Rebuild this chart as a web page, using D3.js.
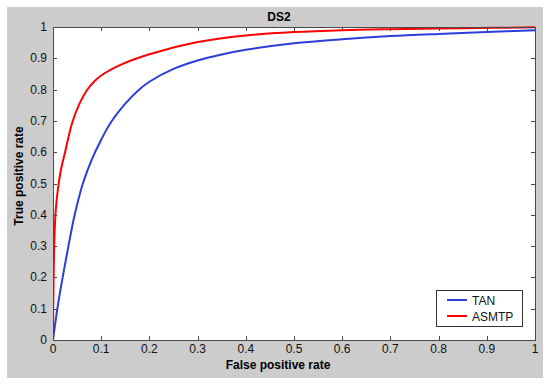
<!DOCTYPE html>
<html>
<head>
<meta charset="utf-8">
<script src="https://cdn.jsdelivr.net/npm/d3@7"></script>
<style>
  body { margin: 0; background: #fff; }
  text { font-family: "Liberation Sans", Arial, sans-serif; }
</style>
</head>
<body>
<div id="chart"></div>
<script>
// ROC curves (false positive rate -> true positive rate)
const tanFpr = [0, 0.01, 0.02, 0.032, 0.045, 0.062, 0.08, 0.10, 0.12, 0.15, 0.175, 0.20, 0.25, 0.30, 0.35, 0.40, 0.50, 0.60, 0.70, 0.80, 0.90, 1.0];
const tanTpr = [0, 0.11, 0.20, 0.30, 0.40, 0.50, 0.575, 0.64, 0.695, 0.755, 0.795, 0.825, 0.866, 0.893, 0.912, 0.927, 0.948, 0.961, 0.971, 0.978, 0.984, 0.99];

const asmtpFpr = [0, 0.001, 0.003, 0.006, 0.01, 0.016, 0.025, 0.04, 0.055, 0.07, 0.085, 0.10, 0.14, 0.20, 0.30, 0.40, 0.50, 0.60, 0.70, 0.85, 1.0];
const asmtpTpr = [0, 0.17, 0.33, 0.42, 0.48, 0.54, 0.60, 0.695, 0.755, 0.797, 0.825, 0.845, 0.879, 0.913, 0.952, 0.973, 0.984, 0.99, 0.993, 0.996, 0.999];

const xTicks = [0, 0.1, 0.2, 0.3, 0.4, 0.5, 0.6, 0.7, 0.8, 0.9, 1];
const yTicks = [0, 0.1, 0.2, 0.3, 0.4, 0.5, 0.6, 0.7, 0.8, 0.9, 1];

const seriesNames = ["TAN", "ASMTP"];
const seriesColors = ["#2b3ddb", "#ff0000"];

const width = 550
const height = 386
const plot = { left: 53, top: 27, right: 535, bottom: 340 }

const svg = d3.select("#chart").append("svg")
    .attr("width", width)
    .attr("height", height)

// figure background (MATLAB grey)
svg.append("rect")
    .attr("x", 7).attr("y", 7)
    .attr("width", 536).attr("height", 371)
    .attr("fill", "#cccccc")

svg.append("rect")
    .attr("x", plot.left).attr("y", plot.top)
    .attr("width", plot.right - plot.left).attr("height", plot.bottom - plot.top)
    .attr("fill", "#ffffff")

let x = d3.scaleLinear().domain([0, 1]).range([plot.left, plot.right])
let y = d3.scaleLinear().domain([0, 1]).range([plot.bottom, plot.top])

const fmt = (d) => d === 0 ? "0" : d === 1 ? "1" : d3.format(".1f")(d)

// inward ticks on all four sides
const tickLen = 4
const axisColor = "#4a4a4a"
const ticks = svg.append("g").attr("stroke", axisColor).attr("stroke-width", 1)

ticks.selectAll(".xb").data(xTicks).join("line")
    .attr("x1", (d) => Math.round(x(d)) + 0.5).attr("x2", (d) => Math.round(x(d)) + 0.5)
    .attr("y1", plot.bottom).attr("y2", plot.bottom - tickLen)
ticks.selectAll(".xt").data(xTicks).join("line")
    .attr("x1", (d) => Math.round(x(d)) + 0.5).attr("x2", (d) => Math.round(x(d)) + 0.5)
    .attr("y1", plot.top).attr("y2", plot.top + tickLen)
ticks.selectAll(".yl").data(yTicks).join("line")
    .attr("x1", plot.left).attr("x2", plot.left + tickLen)
    .attr("y1", (d) => Math.round(y(d)) + 0.5).attr("y2", (d) => Math.round(y(d)) + 0.5)
ticks.selectAll(".yr").data(yTicks).join("line")
    .attr("x1", plot.right).attr("x2", plot.right - tickLen)
    .attr("y1", (d) => Math.round(y(d)) + 0.5).attr("y2", (d) => Math.round(y(d)) + 0.5)

// curves (centripetal catmull-rom keeps the bends smooth without overshoot)
const line = d3.line()
    .x((d) => x(d[0]))
    .y((d) => y(d[1]))
    .curve(d3.curveCatmullRom.alpha(0.5))

const series = [
    d3.zip(tanFpr, tanTpr),
    d3.zip(asmtpFpr, asmtpTpr)
]

svg.append("defs").append("clipPath").attr("id", "clip")
    .append("rect")
    .attr("x", plot.left).attr("y", plot.top - 1)
    .attr("width", plot.right - plot.left).attr("height", plot.bottom - plot.top + 1)

svg.append("g").attr("clip-path", "url(#clip)")
    .selectAll("path")
    .data(series)
    .join("path")
        .attr("d", line)
        .attr("fill", "none")
        .attr("stroke", (d, i) => seriesColors[i])
        .attr("stroke-width", 2)

// axes box
svg.append("rect")
    .attr("x", plot.left + 0.5).attr("y", plot.top + 0.5)
    .attr("width", plot.right - plot.left).attr("height", plot.bottom - plot.top)
    .attr("fill", "none")
    .attr("stroke", axisColor)

// tick labels
svg.append("g").selectAll("text")
    .data(xTicks)
    .join("text")
        .attr("x", (d) => x(d))
        .attr("y", 353)
        .attr("text-anchor", "middle")
        .attr("font-size", 12)
        .attr("fill", "#111")
        .text(fmt)

svg.append("g").selectAll("text")
    .data(yTicks)
    .join("text")
        .attr("x", 47)
        .attr("y", (d) => y(d) + 4)
        .attr("text-anchor", "end")
        .attr("font-size", 12)
        .attr("fill", "#111")
        .text(fmt)

// titles
svg.append("text")
    .attr("x", 279).attr("y", 21)
    .attr("text-anchor", "middle")
    .attr("font-size", 12).attr("font-weight", "bold")
    .text("DS2")

svg.append("text")
    .attr("x", 278).attr("y", 369)
    .attr("text-anchor", "middle")
    .attr("font-size", 12).attr("font-weight", "bold")
    .text("False positive rate")

svg.append("text")
    .attr("transform", "translate(23,176) rotate(-90)")
    .attr("text-anchor", "middle")
    .attr("font-size", 12).attr("font-weight", "bold")
    .text("True positive rate")

// legend
const legend = svg.append("g")
legend.append("rect")
    .attr("x", 436.5).attr("y", 290.5)
    .attr("width", 86).attr("height", 36)
    .attr("fill", "#fff")
    .attr("stroke", "#333")

legend.selectAll(".entry")
    .data(seriesNames)
    .join("g")
    .each(function(name, i) {
        const g = d3.select(this)
        const cy = 300 + i * 16
        g.append("line")
            .attr("x1", 447).attr("x2", 467)
            .attr("y1", cy).attr("y2", cy)
            .attr("stroke", seriesColors[i])
            .attr("stroke-width", 2)
        g.append("text")
            .attr("x", 472).attr("y", cy + 4.5)
            .attr("font-size", 12)
            .attr("fill", "#111")
            .text(name)
    })
</script>
</body>
</html>
